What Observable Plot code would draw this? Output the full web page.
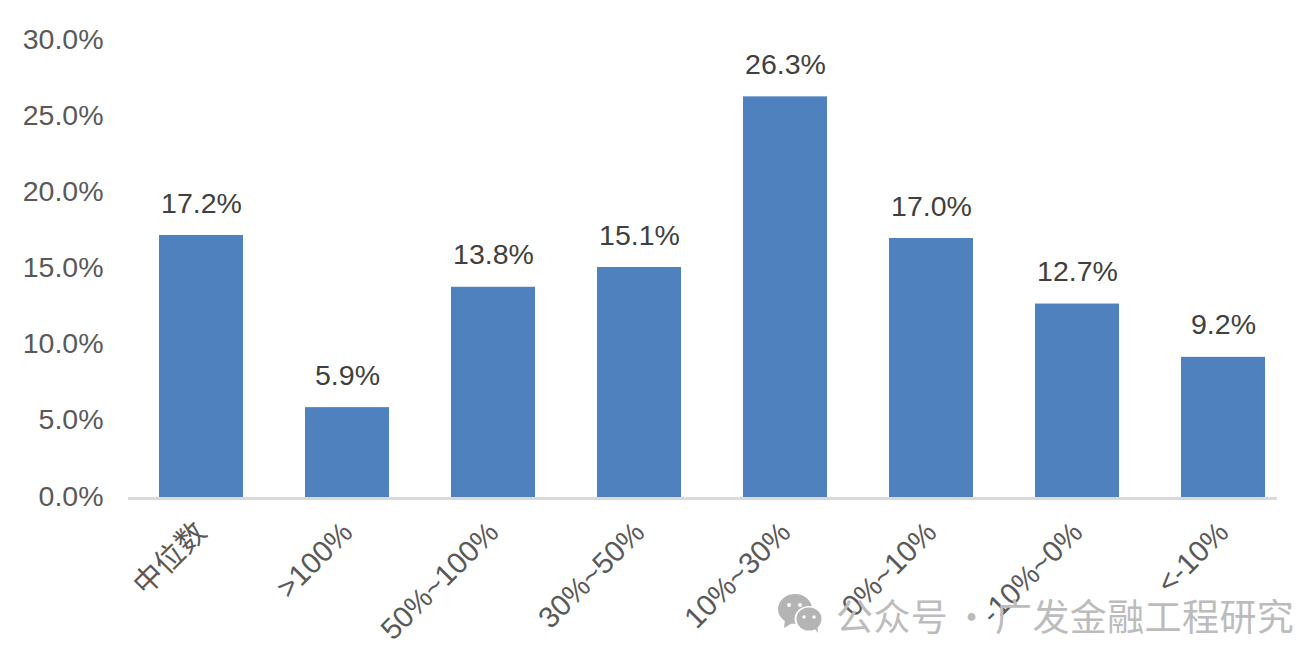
<!DOCTYPE html>
<html><head><meta charset="utf-8">
<script src="https://cdn.jsdelivr.net/npm/d3@7"></script>
<script src="https://cdn.jsdelivr.net/npm/@observablehq/plot@0.6"></script>
<style>
html,body{margin:0;padding:0;background:#fff;overflow:hidden}
#wrap{position:relative;width:1308px;height:651px}
#wm{position:absolute;left:836px;top:590px;font:37px/50px "Noto Sans CJK SC",sans-serif;color:#bcbcbc;white-space:nowrap;letter-spacing:0.4px;word-spacing:-4px}
#ic{position:absolute;left:776px;top:590px}
</style></head><body><div id="wrap"></div>
<script>
const categories = ["中位数", ">100%", "50%~100%", "30%~50%", "10%~30%", "0%~10%", "-10%~0%", "<-10%"];
const values = [17.2, 5.9, 13.8, 15.1, 26.3, 17.0, 12.7, 9.2];
const yTicks = [0, 5, 10, 15, 20, 25, 30];
const rows = categories.map((c, i) => ({c, v: values[i]}));
const font = "'Liberation Sans', Arial, 'Noto Sans CJK SC', sans-serif";
const chart = Plot.plot({
  width: 1308, height: 651,
  marginLeft: 128, marginRight: 12, marginTop: 40, marginBottom: 154,
  style: {fontFamily: font, background: "#fff"},
  x: {domain: categories, paddingInner: 0.425, paddingOuter: 0.2125, align: 0.5, label: null},
  y: {domain: [0, 30], label: null},
  marks: [
    Plot.barY(rows, {x: "c", y: "v", fill: "#4e81bd"}),
    Plot.ruleY([0], {stroke: "#d9d9d9", strokeWidth: 3, dy: 1, insetRight: 19}),
    Plot.axisY({ticks: yTicks, tickSize: 0, tickPadding: 25, tickFormat: d => d.toFixed(1) + "%", fontSize: 28.5, fill: "#595959", label: null, dy: -1}),
    Plot.axisX({tickSize: 0, tickPadding: 30, tickRotate: -45, fontSize: 29.5, fill: "#595959", label: null}),
    Plot.text(rows, {x: "c", y: "v", text: d => d.v.toFixed(1) + "%", dy: -32, fontSize: 28.5, fill: "#404040"})
  ]
});
const wrap = document.getElementById("wrap");
wrap.appendChild(chart);
wrap.insertAdjacentHTML("beforeend", `<svg id="ic" width="50" height="46" viewBox="0 0 50 46">
<ellipse cx="19" cy="19" rx="17" ry="15" fill="#b4b4b4"/><path d="M9 29 L8 38 L18 32Z" fill="#b4b4b4"/>
<ellipse cx="33" cy="29" rx="14.5" ry="13" fill="#fff"/>
<ellipse cx="33" cy="29" rx="12.5" ry="11.5" fill="#b4b4b4"/><path d="M38 38 L42 43 L41 34Z" fill="#b4b4b4"/>
<circle cx="13" cy="15" r="2" fill="#fff"/><circle cx="24" cy="15" r="2" fill="#fff"/>
<circle cx="28" cy="27" r="1.7" fill="#fff"/><circle cx="38" cy="27" r="1.7" fill="#fff"/></svg>
<div id="wm">公众号 · 广发金融工程研究</div>`);
</script></body></html>
